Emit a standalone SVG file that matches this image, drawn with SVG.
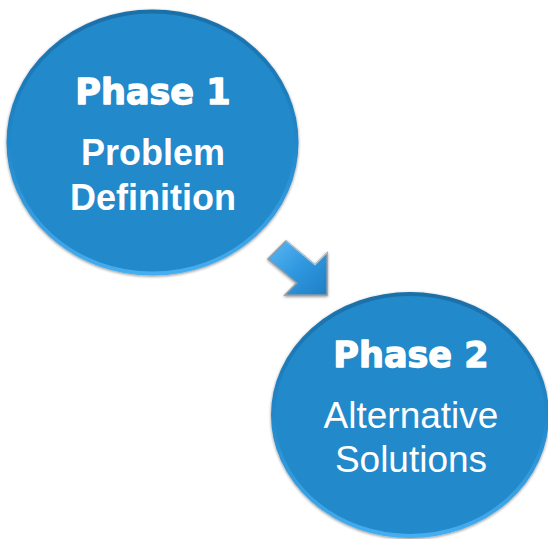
<svg xmlns="http://www.w3.org/2000/svg" width="548" height="539" viewBox="0 0 548 539">
  <defs>
    <linearGradient id="bevel" x1="0" y1="0" x2="0" y2="1">
      <stop offset="0" stop-color="#1a6fa8"/>
      <stop offset="0.5" stop-color="#2287c9"/>
      <stop offset="1" stop-color="#45aef0"/>
    </linearGradient>
    <linearGradient id="arrowFill" x1="0" y1="0" x2="1" y2="1">
      <stop offset="0" stop-color="#5bb8f2"/>
      <stop offset="0.5" stop-color="#2f98e0"/>
      <stop offset="1" stop-color="#1f7fc4"/>
    </linearGradient>
    <filter id="shadow" x="-10%" y="-10%" width="120%" height="120%">
      <feGaussianBlur in="SourceAlpha" stdDeviation="1.5"/>
      <feOffset dx="0" dy="1" result="b"/>
      <feComponentTransfer><feFuncA type="linear" slope="0.45"/></feComponentTransfer>
      <feMerge><feMergeNode/><feMergeNode in="SourceGraphic"/></feMerge>
    </filter>
    <style>
      .disc { fill: #2389cb; stroke: url(#bevel); stroke-width: 4; filter: url(#shadow); }
      .head { font-family: "DejaVu Sans", "Liberation Sans", sans-serif; font-weight: bold; font-size: 35px; fill: #ffffff; stroke: #ffffff; stroke-width: 1.3; stroke-linejoin: round; text-anchor: middle; }
      .boldtxt { font-family: "Liberation Sans", Arial, sans-serif; font-weight: bold; font-size: 36px; fill: #ffffff; text-anchor: middle; }
      .regtxt { font-family: "Liberation Sans", Arial, sans-serif; font-size: 37px; fill: #ffffff; text-anchor: middle; }
      .arrow { fill: url(#arrowFill); stroke: #8a9aa8; stroke-width: 1.5; stroke-linejoin: miter; filter: url(#shadow); }
    </style>
  </defs>

  <g id="connectors">
    <polygon class="arrow" points="268,259 286,241 315,265 327,253 327,295 285,295 297,283"/>
    <polyline points="286,241 315,265 327,253" fill="none" stroke="#8fd0f8" stroke-width="1"/>
  </g>

  <g id="phase1">
    <ellipse class="disc" cx="152.5" cy="142.5" rx="144" ry="131"/>
    <text class="head" x="153" y="104">Phase 1</text>
    <text class="boldtxt" x="153" y="165">Problem</text>
    <text class="boldtxt" x="153" y="210">Definition</text>
  </g>

  <g id="phase2">
    <ellipse class="disc" cx="410" cy="415" rx="137" ry="121"/>
    <text class="head" x="411" y="367">Phase 2</text>
    <text class="regtxt" x="411" y="428">Alternative</text>
    <text class="regtxt" x="411" y="472">Solutions</text>
  </g>
</svg>
